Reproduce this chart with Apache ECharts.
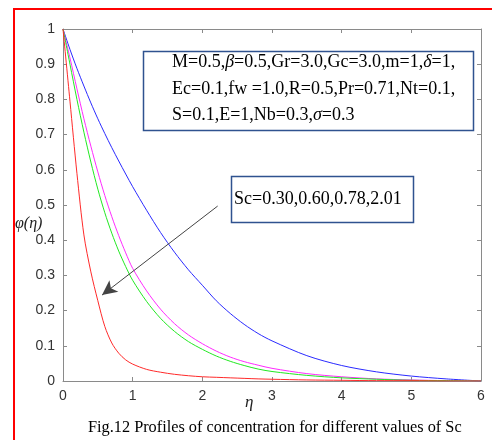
<!DOCTYPE html>
<html>
<head>
<meta charset="utf-8">
<script src="https://cdn.jsdelivr.net/npm/echarts@6/dist/echarts.min.js"></script>
<style>
  html, body { margin: 0; padding: 0; background: #fff; }
  #chart { width: 492px; height: 440px; }
</style>
</head>
<body>
<div id="chart"></div>
<script>
// eta values shared by all curves
const eta = [0, 0.1, 0.2, 0.3, 0.4, 0.5, 0.6, 0.7, 0.8, 0.9, 1.0, 1.2, 1.4, 1.6, 1.8, 2.0, 2.2, 2.4, 2.6, 2.8, 3.0, 3.5, 4.0, 4.5, 5.0, 5.5, 6.0];

// concentration profiles phi(eta)
const sc030 = [1, 0.942, 0.888, 0.838, 0.79, 0.745, 0.703, 0.663, 0.625, 0.588, 0.552, 0.485, 0.422, 0.366, 0.316, 0.272, 0.228, 0.192, 0.161, 0.135, 0.114, 0.072, 0.044, 0.026, 0.014, 0.006, 0];
const sc060 = [1, 0.918, 0.83, 0.745, 0.667, 0.594, 0.527, 0.467, 0.413, 0.364, 0.32, 0.256, 0.204, 0.163, 0.131, 0.106, 0.085, 0.068, 0.055, 0.045, 0.036, 0.021, 0.012, 0.006, 0.003, 0.001, 0];
const sc078 = [1, 0.9, 0.8, 0.707, 0.622, 0.545, 0.478, 0.42, 0.369, 0.325, 0.286, 0.226, 0.178, 0.141, 0.112, 0.09, 0.071, 0.056, 0.044, 0.034, 0.027, 0.016, 0.009, 0.005, 0.002, 0.001, 0];
const sc201 = [1, 0.795, 0.59, 0.415, 0.31, 0.228, 0.155, 0.108, 0.079, 0.06, 0.048, 0.033, 0.025, 0.019, 0.015, 0.012, 0.0105, 0.009, 0.0075, 0.006, 0.005, 0.003, 0.002, 0.001, 0.001, 0, 0];

const xTicks = [0, 1, 2, 3, 4, 5, 6];
const yTicks = [0, 0.1, 0.2, 0.3, 0.4, 0.5, 0.6, 0.7, 0.8, 0.9, 1];

// arrow pointing through the curves (in data units)
const arrowFrom = [2.22, 0.497];
const arrowTo = [0.56, 0.244];

const chart = echarts.init(document.getElementById("chart"));

const pairs = (ys) => eta.map((x, i) => [x, ys[i]]);

const axisGray = "#8a8a8a";
const serif = "'Liberation Serif', 'Times New Roman', serif";
const sans = "'Liberation Sans', Arial, sans-serif";

const boxText = (t, x, y) => ({
  type: "text",
  left: x,
  top: y,
  style: {
    text: t,
    font: "18px " + serif,
    fill: "#000",
    rich: {
      g: { fontFamily: serif, fontStyle: "italic", fontSize: 18, fill: "#000" },
    },
  },
});

const curve = (name, ys, color) => ({
  name: name,
  type: "line",
  data: pairs(ys),
  smooth: 0.3,
  showSymbol: false,
  lineStyle: { color: color, width: 1 },
});

const option = {
  animation: false,
  backgroundColor: "#fff",
  grid: { left: 63, top: 29, width: 418, height: 352, show: false },
  xAxis: [
    {
      type: "value",
      min: xTicks[0],
      max: xTicks[xTicks.length - 1],
      interval: 1,
      position: "bottom",
      axisLine: { show: true, lineStyle: { color: axisGray } },
      axisTick: { inside: true, length: 4, lineStyle: { color: axisGray } },
      axisLabel: { color: "#333", fontSize: 14, fontFamily: sans, margin: 8 },
      splitLine: { show: false },
    },
    {
      type: "value",
      min: xTicks[0],
      max: xTicks[xTicks.length - 1],
      interval: 1,
      position: "top",
      axisLine: { show: true, onZero: false, lineStyle: { color: axisGray } },
      axisTick: { inside: true, length: 4, lineStyle: { color: axisGray } },
      axisLabel: { show: false },
      splitLine: { show: false },
    },
  ],
  yAxis: [
    {
      type: "value",
      min: yTicks[0],
      max: yTicks[yTicks.length - 1],
      interval: 0.1,
      position: "left",
      axisLine: { show: true, lineStyle: { color: axisGray } },
      axisTick: { inside: true, length: 4, lineStyle: { color: axisGray } },
      axisLabel: { color: "#333", fontSize: 14, fontFamily: sans, margin: 8 },
      splitLine: { show: false },
    },
    {
      type: "value",
      min: yTicks[0],
      max: yTicks[yTicks.length - 1],
      interval: 0.1,
      position: "right",
      axisLine: { show: true, onZero: false, lineStyle: { color: axisGray } },
      axisTick: { inside: true, length: 4, lineStyle: { color: axisGray } },
      axisLabel: { show: false },
      splitLine: { show: false },
    },
  ],
  series: [
    curve("Sc=0.30", sc030, "#2a2aff"),
    curve("Sc=0.60", sc060, "#ff2aff"),
    curve("Sc=0.78", sc078, "#22e822"),
    curve("Sc=2.01", sc201, "#ff2a2a"),
    {
      name: "arrow",
      type: "line",
      data: [],
      markLine: {
        silent: true,
        symbol: ["none", "arrow"],
        symbolSize: [11, 15],
        label: { show: false },
        lineStyle: { color: "#444", width: 1, type: "solid" },
        data: [[{ coord: arrowFrom }, { coord: arrowTo }]],
      },
    },
  ],
  graphic: [
    // red frame edges
    { type: "line", shape: { x1: 14, y1: 9, x2: 14, y2: 440 }, style: { stroke: "#ff0000", lineWidth: 2 } },
    { type: "line", shape: { x1: 13, y1: 9, x2: 492, y2: 9 }, style: { stroke: "#ff0000", lineWidth: 2 } },
    // parameter box
    { type: "rect", shape: { x: 143.5, y: 51.5, width: 330, height: 79 }, style: { fill: "#fff", stroke: "#2f528f", lineWidth: 1.5 } },
    boxText("M=0.5,{g|β}=0.5,Gr=3.0,Gc=3.0,m=1,{g|δ}=1,", 172, 53),
    boxText("Ec=0.1,fw =1.0,R=0.5,Pr=0.71,Nt=0.1,", 172, 80),
    boxText("S=0.1,E=1,Nb=0.3,{g|σ}=0.3", 172, 106),
    // Sc box
    { type: "rect", shape: { x: 231.5, y: 176.5, width: 182, height: 46 }, style: { fill: "#fff", stroke: "#2f528f", lineWidth: 1.5 } },
    boxText("Sc=0.30,0.60,0.78,2.01", 234, 190),
    // axis names
    {
      type: "text", left: 15, top: 216,
      style: { text: "φ(η)", font: "italic 16px " + serif, fill: "#222" },
    },
    {
      type: "text", left: 245, top: 394,
      style: { text: "η", font: "italic 17px " + serif, fill: "#222" },
    },
    // caption
    {
      type: "text", left: 88, top: 420,
      style: { text: "Fig.12 Profiles of concentration for different values of Sc", font: "16.3px " + serif, fill: "#000" },
    },
  ],
};

chart.setOption(option);
</script>
</body>
</html>
